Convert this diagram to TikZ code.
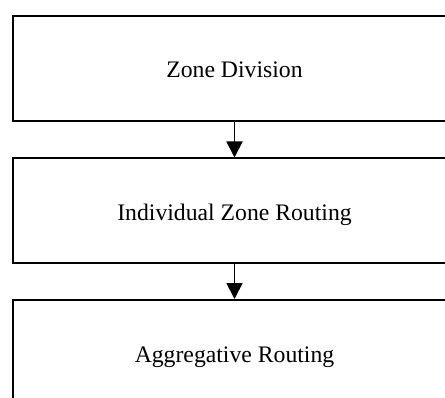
\documentclass[tikz,border=0pt]{standalone}
\usepackage{fontspec}
\setmainfont{Liberation Serif}
\usetikzlibrary{arrows.meta}
\begin{document}
\begin{tikzpicture}[x=1pt,y=1pt,
  stagebox/.style={draw, line width=2pt, minimum width=444pt, minimum height=105pt,
    inner sep=0pt, text height=19pt, text depth=0pt,
    font=\fontsize{23.7}{28}\selectfont},
  flowarrow/.style={line width=1.8pt, -{Triangle[length=16pt,width=16pt]}}]
\clip (0,0) rectangle (445,397);
\useasboundingbox (0,0) rectangle (445,397);
\node[stagebox] (zd) at (234.5,328.7) {Zone Division};
\node[stagebox] (izr) at (234.5,186) {Individual Zone Routing};
\node[stagebox] (ar) at (234.5,44.5) {Aggregative Routing};
\draw[flowarrow] (zd.south) -- (izr.north);
\draw[flowarrow] (izr.south) -- (ar.north);
\end{tikzpicture}
\end{document}
